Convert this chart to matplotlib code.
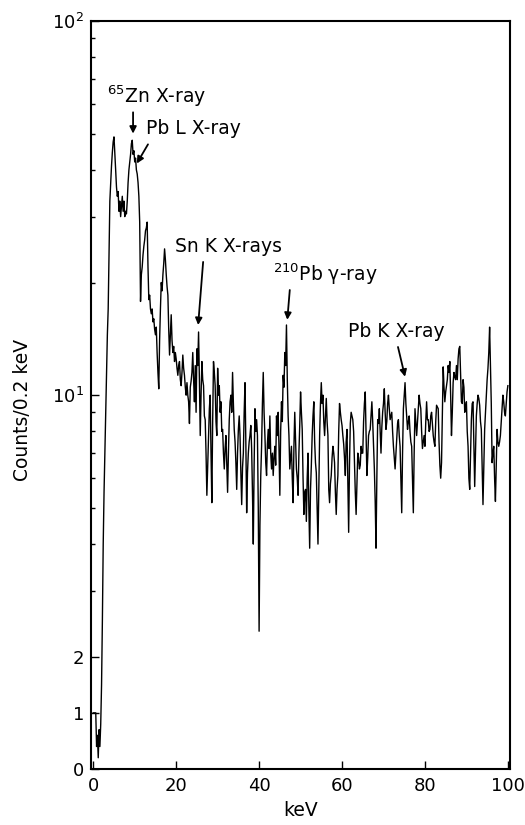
import numpy as np
import matplotlib
matplotlib.use('Agg')
import matplotlib.pyplot as plt
from matplotlib.ticker import FixedLocator, FixedFormatter, NullFormatter

plt.rcParams['font.family'] = 'DejaVu Sans'
plt.rcParams['mathtext.fontset'] = 'dejavusans'

bin_width = 0.2  # keV per channel

# counts per 0.2 keV channel, one row = 5 keV
counts_0_5 = [1.0, 1.0, 1.0, 1.0, 0.4, 0.6, 0.2, 0.7, 0.4, 0.8, 1.5, 2.5, 4.0, 5.5, 7.0, 9.0, 11.5, 14.5, 17.0, 24.0, 33.0, 37.0, 41.0, 44.5, 47.5]
counts_5_10 = [49.0, 44.0, 40.0, 36.0, 34.0, 35.0, 31.0, 33.0, 30.0, 32.0, 34.0, 31.0, 33.0, 30.0, 31.0, 30.5, 33.0, 37.0, 40.0, 42.0, 44.0, 47.0, 48.0, 44.0, 45.0]
counts_10_15 = [42.0, 43.0, 40.0, 39.0, 37.0, 34.0, 29.0, 17.8, 21.0, 22.0, 23.7, 25.0, 26.0, 27.5, 28.0, 29.0, 22.0, 18.0, 18.5, 17.0, 16.5, 17.0, 15.7, 16.0, 15.0]
counts_15_20 = [14.5, 15.2, 13.0, 11.5, 10.4, 14.0, 17.0, 20.0, 19.0, 21.0, 22.5, 24.6, 23.0, 21.0, 19.5, 18.5, 15.0, 12.8, 14.5, 16.4, 14.0, 13.0, 13.5, 12.3, 13.0]
counts_20_25 = [12.5, 11.8, 11.3, 12.0, 12.3, 11.0, 10.6, 11.5, 12.8, 11.8, 11.3, 10.5, 10.0, 10.8, 10.0, 9.6, 8.4, 10.5, 10.9, 11.5, 13.0, 11.0, 9.6, 12.0, 9.0]
counts_25_30 = [13.3, 12.0, 14.75, 11.0, 7.8, 10.0, 12.3, 11.0, 10.6, 8.8, 8.6, 7.0, 5.4, 6.5, 7.8, 9.2, 10.0, 7.0, 5.16, 8.5, 12.3, 11.5, 10.6, 8.5, 7.8]
counts_30_35 = [11.8, 10.0, 10.6, 9.0, 9.6, 8.0, 8.1, 7.0, 6.35, 7.2, 7.8, 6.5, 5.5, 7.0, 8.6, 9.6, 10.0, 9.0, 11.5, 9.5, 8.1, 7.5, 6.6, 5.6, 7.0]
counts_35_40 = [8.1, 8.8, 7.8, 6.2, 5.1, 6.4, 7.0, 9.0, 10.8, 7.5, 4.85, 6.2, 7.0, 7.5, 7.8, 8.3, 7.2, 5.5, 4.0, 6.5, 9.2, 8.0, 8.6, 7.8, 5.0]
counts_40_45 = [2.34, 4.5, 6.1, 7.3, 9.5, 11.5, 9.0, 7.8, 6.6, 6.1, 7.4, 8.1, 7.2, 8.8, 7.0, 6.35, 7.0, 6.1, 6.8, 7.3, 6.5, 8.8, 7.8, 9.0, 7.2]
counts_45_50 = [5.4, 8.0, 9.6, 8.5, 11.3, 10.5, 13.0, 12.0, 15.4, 11.0, 8.8, 7.8, 6.35, 6.8, 7.3, 6.0, 5.16, 7.3, 9.0, 7.5, 6.35, 6.0, 5.4, 7.0, 8.3]
counts_50_55 = [10.2, 9.0, 8.1, 6.0, 4.8, 5.5, 5.6, 4.6, 6.0, 7.0, 5.0, 3.9, 5.6, 6.5, 7.8, 8.8, 9.6, 7.5, 6.6, 6.2, 5.0, 4.0, 5.5, 7.8, 9.5]
counts_55_60 = [10.8, 9.5, 10.0, 8.5, 7.8, 8.8, 9.8, 8.5, 7.8, 5.6, 5.16, 5.8, 6.1, 6.8, 7.3, 7.0, 6.6, 5.5, 4.8, 5.6, 6.1, 8.0, 9.5, 9.0, 8.6]
counts_60_65 = [8.3, 7.8, 7.4, 6.8, 6.1, 7.5, 8.1, 6.0, 4.3, 6.5, 8.4, 9.0, 8.8, 8.6, 8.0, 6.6, 5.5, 4.8, 5.8, 7.0, 6.8, 6.35, 6.5, 7.3, 7.0]
counts_65_70 = [7.0, 8.5, 9.5, 10.2, 8.0, 6.1, 6.8, 7.8, 8.0, 8.1, 8.8, 9.6, 8.5, 7.3, 6.35, 5.2, 3.9, 6.0, 8.6, 8.4, 9.2, 8.0, 7.0, 8.2, 9.0]
counts_70_75 = [9.5, 10.4, 9.0, 8.1, 8.5, 9.5, 10.0, 9.2, 8.6, 8.8, 9.0, 8.0, 7.3, 6.8, 6.35, 7.0, 7.8, 8.4, 8.6, 7.8, 7.3, 6.0, 4.85, 7.0, 9.2]
counts_75_80 = [10.0, 10.8, 9.5, 8.8, 8.1, 8.5, 8.8, 8.0, 7.5, 7.3, 6.0, 4.85, 7.0, 9.2, 8.5, 7.8, 8.5, 9.2, 10.0, 9.5, 9.2, 8.0, 7.2, 7.5, 7.8]
counts_80_85 = [7.3, 8.5, 9.6, 8.6, 8.6, 8.0, 8.1, 8.8, 9.0, 8.4, 7.8, 7.5, 7.3, 8.5, 9.4, 9.3, 9.2, 7.5, 6.5, 6.0, 6.6, 9.0, 11.9, 10.5, 9.6]
counts_85_90 = [10.2, 10.6, 11.0, 12.0, 11.5, 12.3, 10.0, 7.8, 9.0, 10.8, 11.5, 11.2, 11.0, 12.0, 11.0, 12.5, 13.3, 13.5, 11.5, 9.6, 9.5, 11.0, 10.5, 9.0, 9.2]
counts_90_95 = [9.6, 8.0, 7.3, 6.0, 5.6, 7.0, 8.6, 9.5, 9.6, 7.5, 5.7, 7.0, 8.8, 9.5, 10.0, 9.8, 9.4, 8.5, 8.1, 6.5, 5.1, 6.5, 8.1, 9.0, 10.0]
counts_95_100 = [11.0, 11.8, 13.0, 15.2, 12.0, 9.5, 6.6, 7.0, 7.3, 6.0, 5.2, 6.5, 8.1, 7.5, 7.3, 7.5, 7.8, 8.5, 9.2, 10.0, 9.6, 9.0, 8.8, 9.5, 10.2, 10.6]

counts = np.array(counts_0_5 + counts_5_10 + counts_10_15 + counts_15_20 + counts_20_25
                  + counts_25_30 + counts_30_35 + counts_35_40 + counts_40_45 + counts_45_50
                  + counts_50_55 + counts_55_60 + counts_60_65 + counts_65_70 + counts_70_75
                  + counts_75_80 + counts_80_85 + counts_85_90 + counts_90_95 + counts_95_100)
energy = np.arange(len(counts)) * bin_width

y_ticks = [0, 1, 2, 10, 100]
y_ticklabels = ['0', '1', '2', '$10^1$', '$10^2$']
y_minor = [3, 4, 5, 6, 7, 8, 9, 20, 30, 40, 50, 60, 70, 80, 90]
x_ticks = [0, 20, 40, 60, 80, 100]

# peak labels: (text, text pos, arrow tail, arrow tip) in keV / counts
peaks = [
    ('$^{65}$Zn X-ray', (3.3, 63.0), (9.6, 57.0), (9.6, 50.0)),
    ('Pb L X-ray', (12.7, 51.5), (13.2, 46.8), (10.5, 41.6)),
    ('Sn K X-rays', (19.7, 24.9), (26.5, 22.7), (25.3, 15.4)),
    ('$^{210}$Pb γ-ray', (43.3, 21.1), (47.4, 19.1), (46.8, 15.9)),
    ('Pb K X-ray', (61.4, 14.75), (73.5, 13.45), (75.2, 11.2)),
]

fig = plt.figure(figsize=(5.25, 8.25), dpi=100)
ax = fig.add_axes([0.1733, 0.0679, 0.798, 0.9067])

ax.plot(energy, counts, color='black', lw=1.0)

ax.set_yscale('symlog', linthresh=2, linscale=0.27)
ax.set_ylim(0, 100)
ax.set_xlim(-0.55, 100.5)

ax.yaxis.set_major_locator(FixedLocator(y_ticks))
ax.yaxis.set_major_formatter(FixedFormatter(y_ticklabels))
ax.yaxis.set_minor_locator(FixedLocator(y_minor))
ax.yaxis.set_minor_formatter(NullFormatter())
ax.set_xticks(x_ticks)
ax.xaxis.set_minor_locator(FixedLocator([]))

ax.tick_params(axis='both', which='major', direction='in', length=6, width=1,
               labelsize=13, top=False, right=False)
ax.tick_params(axis='y', which='minor', direction='in', length=3, width=1, right=False)
ax.tick_params(axis='x', which='major', pad=6)
ax.tick_params(axis='y', which='major', pad=5)
for s in ax.spines.values():
    s.set_linewidth(1.5)

ax.set_xlabel('keV', fontsize=13.5, labelpad=4)
ax.set_ylabel('Counts/0.2 keV', fontsize=13.5)
ax.yaxis.set_label_coords(-0.14, 0.48)

for txt, tpos, tail, tip in peaks:
    ax.text(tpos[0], tpos[1], txt, fontsize=13.5, ha='left', va='center')
    ax.annotate('', xy=tip, xytext=tail,
                arrowprops=dict(arrowstyle='-|>', color='black', lw=1.3,
                                mutation_scale=10, shrinkA=0, shrinkB=0))

fig.savefig('out.png', dpi=100)
